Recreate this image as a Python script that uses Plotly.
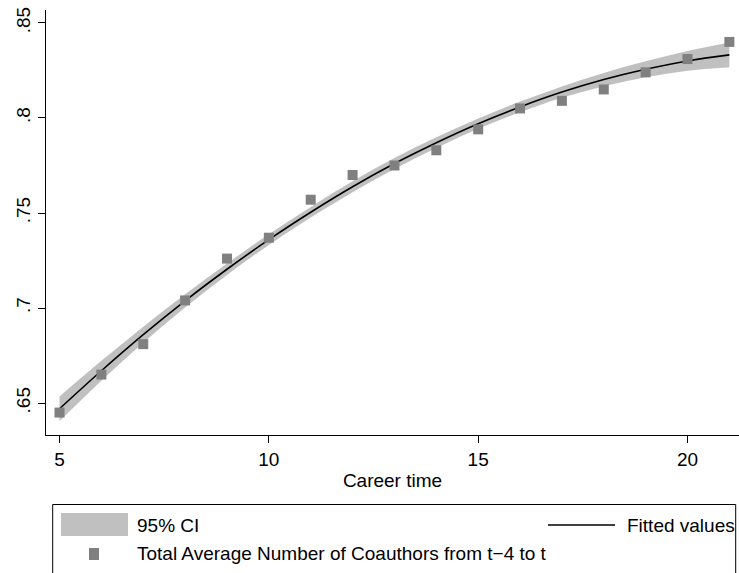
import plotly.graph_objects as go

# ---- data ----
career_time = [5, 6, 7, 8, 9, 10, 11, 12, 13, 14, 15, 16, 17, 18, 19, 20, 21]
avg_coauthors = [0.645, 0.665, 0.681, 0.704, 0.726, 0.737, 0.757, 0.770, 0.775,
                 0.783, 0.794, 0.805, 0.809, 0.815, 0.824, 0.831, 0.840]
fitted = [0.647, 0.667, 0.686, 0.7038, 0.7204, 0.736, 0.7504, 0.7638, 0.776,
          0.787, 0.797, 0.8058, 0.8136, 0.8202, 0.8256, 0.830, 0.8332]
ci_low = [0.6405, 0.6618, 0.6818, 0.7003, 0.7174, 0.7332, 0.7476, 0.7609, 0.7731,
          0.7842, 0.7943, 0.8030, 0.8106, 0.8167, 0.8214, 0.8248, 0.8267]
ci_high = [0.6535, 0.6722, 0.6902, 0.7073, 0.7234, 0.7388, 0.7532, 0.7667, 0.7789,
           0.7898, 0.7997, 0.8086, 0.8166, 0.8237, 0.8298, 0.8352, 0.8397]
x_ticks = [5, 10, 15, 20]
y_ticks = [0.65, 0.70, 0.75, 0.80, 0.85]
y_tick_labels = [".65", ".7", ".75", ".8", ".85"]

FONT = "Liberation Sans, Arial, sans-serif"
CI_COLOR = "#c0c0c0"
MARK_COLOR = "#808080"

W, H = 739, 573
L, R, T, B = 46, 0, 10, 138
PW, PH = W - L - R, H - T - B


def px(x):
    return (x - L) / PW


def py(y):
    return (H - B - y) / PH


fig = go.Figure()
fig.add_trace(go.Scatter(x=career_time, y=ci_low, mode="lines",
                         line=dict(width=0, color=CI_COLOR, shape="spline"),
                         showlegend=False, hoverinfo="skip"))
fig.add_trace(go.Scatter(x=career_time, y=ci_high, mode="lines", fill="tonexty",
                         fillcolor=CI_COLOR,
                         line=dict(width=0, color=CI_COLOR, shape="spline"),
                         name="95% CI", showlegend=False))
fig.add_trace(go.Scatter(x=career_time, y=fitted, mode="lines",
                         line=dict(width=1.6, color="black", shape="spline"),
                         name="Fitted values", showlegend=False))
fig.add_trace(go.Scatter(x=career_time, y=avg_coauthors, mode="markers",
                         marker=dict(symbol="square", size=10, color=MARK_COLOR,
                                     line=dict(width=0)),
                         name="Total Average Number of Coauthors from t\u22124 to t",
                         showlegend=False, cliponaxis=False))

axis_common = dict(showline=True, linecolor="black", linewidth=1, ticks="outside",
                   ticklen=7, tickwidth=1, tickcolor="black", showgrid=False,
                   zeroline=False, tickfont=dict(family=FONT, size=19, color="black"))

fig.update_layout(
    width=W, height=H,
    margin=dict(l=L, r=R, t=T, b=B, pad=0),
    paper_bgcolor="white", plot_bgcolor="white",
    font=dict(family=FONT, color="black", size=19),
    xaxis=dict(range=[4.677, 21.23], tickvals=x_ticks,
               title=dict(text="Career time", font=dict(family=FONT, size=19),
                          standoff=4),
               **axis_common),
    yaxis=dict(range=[0.6332, 0.8568], tickvals=y_ticks, ticktext=y_tick_labels,
               tickangle=-90, **axis_common),
)

shapes = [
    # legend box
    dict(type="rect", xref="paper", yref="paper", x0=px(52.7), x1=px(735.7),
         y0=py(504.5), y1=py(600), line=dict(color="black", width=1),
         fillcolor="rgba(0,0,0,0)", layer="above"),
    # CI swatch
    dict(type="rect", xref="paper", yref="paper", x0=px(61), x1=px(128),
         y0=py(513), y1=py(536), line=dict(width=0), fillcolor=CI_COLOR),
    # fitted line swatch
    dict(type="line", xref="paper", yref="paper", x0=px(548), x1=px(615),
         y0=py(525), y1=py(525), line=dict(color="black", width=1.6)),
    # marker swatch
    dict(type="rect", xref="paper", yref="paper", x0=px(89), x1=px(99),
         y0=py(548), y1=py(560), line=dict(width=0), fillcolor=MARK_COLOR),
]
fig.update_layout(shapes=shapes)

for text, x, y in [("95% CI", 136, 525), ("Fitted values", 626, 525),
                   ("Total Average Number of Coauthors from t\u22124 to t", 136, 553)]:
    fig.add_annotation(text=text, xref="paper", yref="paper", x=px(x), y=py(y),
                       xanchor="left", yanchor="middle", showarrow=False,
                       font=dict(family=FONT, size=19, color="black"), borderpad=0)

fig.write_html("out.html",
               config={"displayModeBar": False},
               post_script="document.body.style.margin='0px';"
                           "document.body.style.overflow='hidden';")
